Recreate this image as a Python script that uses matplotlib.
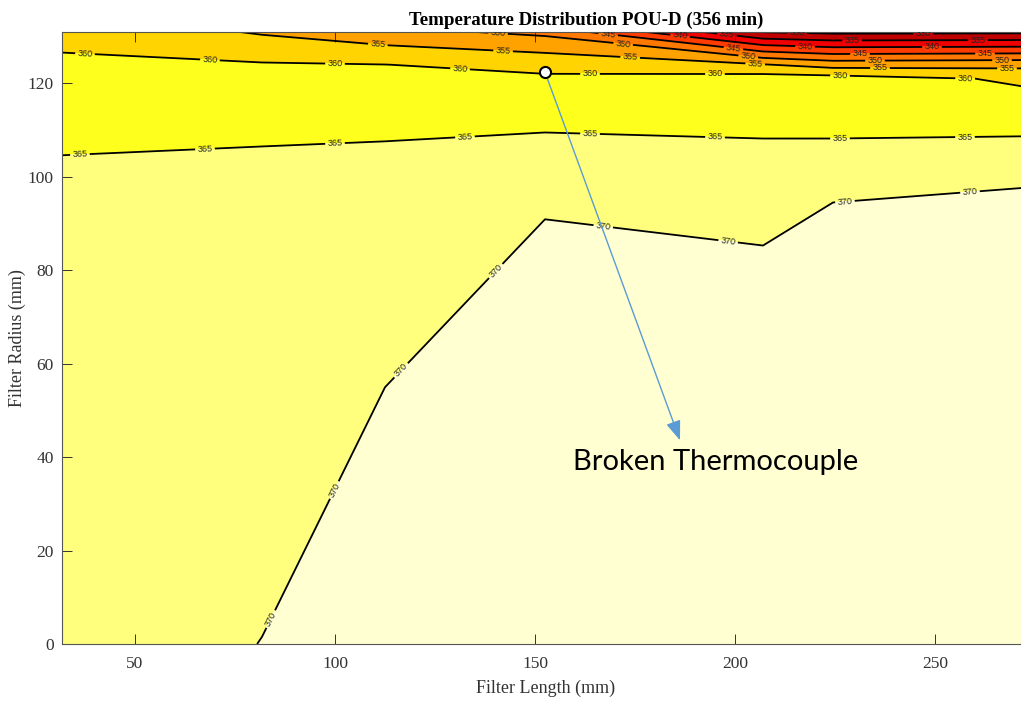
import matplotlib
matplotlib.use("Agg")
import matplotlib.pyplot as plt
import numpy as np

# node positions (mm)
filter_length = [31.75, 81.75, 112.5, 152.5, 207.0, 224.5, 275.0]
filter_radius = [0.0, 100.0, 113.0, 121.0, 124.0, 131.0]

# temperature at every node, one row per radius (bottom -> top)
temp_r0 = [368.0, 370.05, 373.27, 374.0, 374.06, 373.44, 373.6]
temp_r100 = [366.05, 366.79, 367.32, 369.6, 369.3, 369.8, 369.92]
temp_r113 = [363.09, 363.21, 363.35, 363.3, 362.48, 362.19, 362.57]
temp_r121 = [361.27, 361.02, 360.91, 360.8, 362.35, 362.16, 359.1]
temp_r124 = [360.59, 360.4, 360.05, 358.5, 355.3, 352.9, 353.5]
temp_r131 = [359.0, 354.5, 351.6, 348.8, 329.8, 328.75, 329.0]

fill_levels = [325, 330, 335, 340, 345, 350, 355, 360, 365, 370, 375]
line_levels = [330, 335, 340, 345, 350, 355, 360, 365, 370]

broken_tc = (152.5, 122.4)
arrow_tip = (186.25, 43.6)
note_text = "Broken Thermocouple"
title = "Temperature Distribution POU-D (356 min)"

BAND_COLORS = ["#a00000", "#c00000", "#f00000", "#ff3c00", "#ff7800",
               "#ffa200", "#ffd400", "#ffff1e", "#ffff7d", "#ffffd2"]

# where the contour labels sit, per level (mm)
LABEL_POS = {
    370: [(84.5, 5.1), (100, 32.9), (117, 58.2), (140.5, 79.6), (167, 89.0),
          (198.25, 86.0), (227.5, 94.5), (258.75, 96.7)],
    365: [(36.25, 104.4), (67.5, 105.9), (100, 107.2), (132.5, 108.4),
          (163.75, 109.1), (195, 108.2), (226.25, 108.2), (257.5, 108.2)],
    360: [(37.5, 126.4), (68.75, 125.1), (100, 124.1), (131.25, 123.0),
          (163.75, 122.1), (195, 121.9), (226.25, 121.7), (257.5, 120.0)],
    355: [(110.75, 128.6), (142, 126.6), (173.75, 124.9), (205, 123.4),
          (236.25, 123.2), (268, 122.8)],
    350: [(140.75, 130.5), (172, 128.1), (203.25, 125.3), (235, 124.7),
          (266.75, 124.5)],
    345: [(168.25, 130.3), (199.5, 126.8), (231.25, 126.2), (262.5, 126.2)],
    340: [(186.25, 130.1), (217.5, 127.9), (249.25, 127.9)],
    335: [(198, 130.7), (229.25, 129.0), (260.75, 129.0)],
    330: [(215.5, 130.9), (247, 130.9)],
}

plt.rcParams["font.family"] = ["Liberation Serif", "DejaVu Serif"]

X, Y = np.meshgrid(filter_length, filter_radius)
T = np.array([temp_r0, temp_r100, temp_r113, temp_r121, temp_r124, temp_r131])

fig = plt.figure(figsize=(10.21, 7.06), dpi=100)
ax = fig.add_axes([62 / 1021, 62 / 706, 968 / 1021, 612 / 706])

ax.contourf(X, Y, T, levels=fill_levels, colors=BAND_COLORS)
# one contour set per level so each gets its own hand-placed labels
for lev in line_levels:
    cs = ax.contour(X, Y, T, levels=[lev], colors="black", linewidths=1.3)
    labels = cs.clabel(manual=LABEL_POS[lev], inline=True, inline_spacing=3,
                       fmt="%d", fontsize=6.5, colors="#222222")
    for t in labels:
        t.set_fontfamily("Liberation Sans")

ax.plot(*broken_tc, "o", mfc="white", mec="black", ms=8, mew=1.5, zorder=6)
ax.annotate("", xy=arrow_tip, xytext=broken_tc,
            arrowprops=dict(arrowstyle="-|>,head_length=0.8,head_width=0.3",
                            mutation_scale=15, color="#5b9bd5", lw=1.0,
                            shrinkA=5, shrinkB=0), zorder=5)
ax.text(159.5, 38.9, note_text, fontsize=21, family="Lato", va="center",
        color="black")

ax.set_xlim(31.75, 273.75)
ax.set_ylim(0, 131)
ax.set_xticks([50, 100, 150, 200, 250])
ax.set_yticks([0, 20, 40, 60, 80, 100, 120])
ax.tick_params(direction="in", top=True, right=False, length=7.5, width=0.7,
               colors="#333333", labelsize=12.5)
ax.tick_params(axis="x", pad=9)
ax.tick_params(axis="y", pad=6)
for s in ax.spines.values():
    s.set_color("#555555")
    s.set_linewidth(0.8)

ax.set_xlabel("Filter Length (mm)", fontsize=13, color="#333333", labelpad=5)
ax.set_ylabel("Filter Radius (mm)", fontsize=13, color="#333333")
ax.yaxis.set_label_coords(-0.037, 0.5)
ax.set_title(title, fontsize=13.6, fontweight="bold", x=0.541, pad=5)

fig.savefig("out.png", dpi=100)
